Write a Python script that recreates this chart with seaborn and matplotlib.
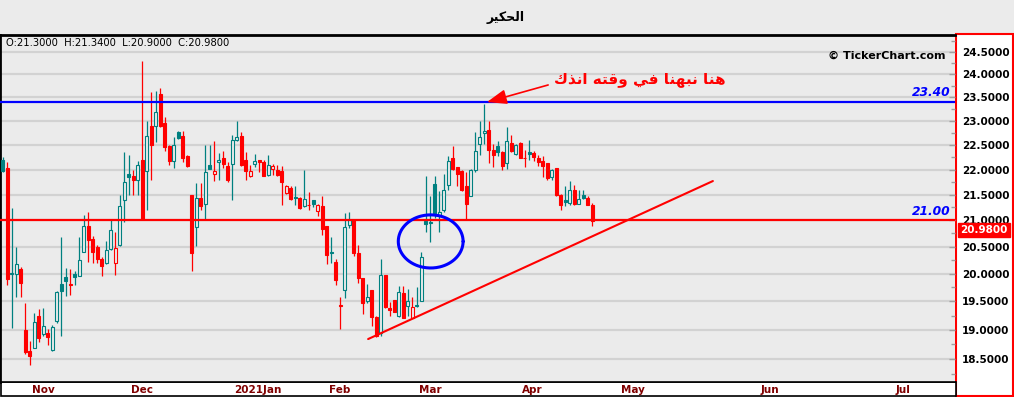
import numpy as np
import matplotlib
matplotlib.use("Agg")
import matplotlib.pyplot as plt
import matplotlib.ticker as mticker
from matplotlib.patches import Rectangle
from matplotlib.transforms import ScaledTranslation
import seaborn as sns

# ---------------- data ----------------
title_text = "الحكير"
note_text = "هنا نبهنا في وقته انذك"
ohlc_text = "O:21.3000  H:21.3400  L:20.9000  C:20.9800"
credit_text = "© TickerChart.com"

opens = [
    22.19, 22.04, 20.00, 20.00, 20.08, 19.00, 18.63, 18.69, 19.24, 18.93,
    18.94, 18.66, 19.16, 19.82, 19.94, 19.81, 20.00, 19.96, 20.41, 20.90,
    20.65, 20.50, 20.27, 20.19, 20.46, 20.19, 20.53, 21.39, 21.92, 21.88,
    21.79, 22.19, 21.98, 22.90, 22.90, 23.58, 22.95, 22.47, 22.18, 22.76,
    22.69, 22.27, 21.50, 20.88, 21.43, 21.32, 22.09, 21.91, 22.15, 22.23,
    22.07, 22.11, 22.60, 22.69, 22.19, 21.88, 22.11, 22.19, 22.16, 21.90,
    22.02, 22.00, 21.98, 21.54, 21.63, 21.45, 21.44, 21.27, 21.30, 21.39,
    21.19, 21.28, 20.89, 20.41, 20.21, 19.43, 19.70, 20.91, 21.00, 20.39,
    19.92, 19.50, 19.71, 19.23, 18.95, 19.98, 19.38, 19.52, 19.24, 19.65,
    19.41, 19.21, 19.44, 19.51, 20.99, 20.96, 21.71, 21.11, 21.20, 21.70,
    22.23, 22.05, 21.97, 21.67, 21.48, 22.00, 22.53, 22.74, 22.82, 22.39,
    22.48, 22.36, 22.13, 22.55, 22.31, 22.55, 22.24, 22.35, 22.33, 22.24,
    22.18, 22.13, 21.86, 22.03, 21.50, 21.39, 21.33, 21.60, 21.32, 21.50,
    21.43, 21.30,
]
highs = [
    22.25, 22.16, 21.24, 20.49, 20.12, 19.48, 18.80, 19.30, 19.37, 19.39,
    19.01, 19.08, 19.68, 20.68, 20.10, 20.09, 20.05, 20.68, 21.11, 21.17,
    20.70, 20.53, 20.31, 20.61, 21.03, 20.78, 21.50, 22.35, 22.29, 22.00,
    22.18, 24.30, 22.99, 23.62, 23.65, 23.71, 23.09, 22.51, 22.67, 22.78,
    22.79, 22.29, 21.50, 21.74, 21.74, 22.51, 22.51, 22.58, 22.33, 22.38,
    22.16, 22.70, 22.99, 22.76, 22.36, 22.09, 22.31, 22.20, 22.19, 22.29,
    22.11, 22.09, 22.07, 21.69, 21.67, 21.67, 21.46, 22.00, 21.56, 21.40,
    21.31, 21.48, 20.89, 20.69, 20.28, 19.58, 21.15, 21.17, 21.00, 20.54,
    19.92, 19.82, 19.71, 19.24, 20.27, 19.98, 19.49, 19.53, 19.77, 19.77,
    19.72, 19.58, 19.76, 20.40, 21.88, 21.48, 21.88, 21.58, 21.92, 22.28,
    22.47, 22.06, 21.99, 21.96, 22.01, 22.76, 23.00, 23.37, 22.99, 22.53,
    22.59, 22.37, 22.88, 22.71, 22.53, 22.57, 22.39, 22.60, 22.38, 22.30,
    22.27, 22.14, 22.02, 22.04, 21.51, 21.67, 21.78, 21.69, 21.60, 21.60,
    21.47, 21.34,
]
lows = [
    21.95, 19.80, 19.03, 19.58, 19.58, 18.59, 18.40, 18.68, 18.79, 18.90,
    18.74, 18.64, 19.12, 18.90, 19.59, 19.62, 19.79, 19.95, 20.40, 20.22,
    20.19, 20.19, 19.96, 20.18, 20.44, 19.98, 20.51, 20.96, 21.50, 21.50,
    21.50, 21.00, 21.20, 21.79, 22.57, 22.87, 22.38, 22.09, 22.04, 22.62,
    22.15, 22.06, 20.05, 20.51, 21.20, 21.02, 22.01, 21.78, 21.80, 22.04,
    21.76, 21.40, 22.58, 22.08, 21.80, 21.86, 22.05, 21.96, 21.87, 21.88,
    21.89, 21.87, 21.30, 21.52, 21.39, 21.29, 21.22, 21.26, 21.20, 21.25,
    21.08, 20.73, 20.18, 20.19, 19.79, 19.02, 19.56, 20.86, 20.33, 19.84,
    19.28, 19.47, 19.06, 18.88, 18.89, 19.38, 19.24, 19.31, 19.23, 19.20,
    19.24, 19.20, 19.40, 19.50, 20.78, 20.58, 21.05, 20.78, 21.17, 21.60,
    22.00, 21.68, 21.58, 21.02, 21.47, 21.96, 22.29, 22.53, 22.14, 22.05,
    22.27, 22.00, 22.01, 22.36, 22.30, 22.23, 22.05, 22.19, 22.18, 22.07,
    21.86, 21.80, 21.79, 21.48, 21.20, 21.27, 21.30, 21.29, 21.31, 21.41,
    21.29, 20.90,
]
closes = [
    21.98, 19.91, 20.01, 20.17, 19.83, 18.62, 18.55, 19.13, 18.86, 19.06,
    18.87, 19.05, 19.67, 19.69, 19.87, 19.80, 19.94, 20.26, 20.90, 20.62,
    20.40, 20.27, 20.15, 20.44, 20.82, 20.47, 21.28, 21.76, 21.85, 21.79,
    22.09, 21.02, 22.69, 22.49, 23.19, 22.89, 22.45, 22.17, 22.51, 22.64,
    22.23, 22.08, 20.38, 21.43, 21.28, 21.95, 22.02, 21.97, 22.19, 22.11,
    21.79, 22.60, 22.67, 22.09, 21.98, 21.97, 22.17, 22.15, 21.88, 22.09,
    22.07, 21.90, 21.75, 21.67, 21.41, 21.43, 21.24, 21.41, 21.29, 21.32,
    21.30, 20.84, 20.35, 20.39, 19.88, 19.42, 20.88, 21.00, 20.38, 19.92,
    19.48, 19.58, 19.23, 18.90, 19.98, 19.40, 19.34, 19.32, 19.67, 19.21,
    19.50, 19.40, 19.42, 20.30, 20.94, 20.95, 21.10, 21.17, 21.60, 22.18,
    22.01, 21.91, 21.60, 21.31, 22.00, 22.38, 22.66, 22.80, 22.39, 22.30,
    22.35, 22.07, 22.59, 22.38, 22.51, 22.24, 22.23, 22.31, 22.26, 22.16,
    22.08, 21.84, 22.00, 21.50, 21.29, 21.36, 21.60, 21.31, 21.41, 21.43,
    21.30, 20.98,
]
prev_close_before_first = 21.90

month_pos = [6, 28, 51, 72, 92, 115, 137, 168, 198]
month_labels = ["Nov", "Dec", "2021Jan", "Feb", "Mar", "Apr", "May", "Jun", "Jul"]

price_ticks = [18.5, 19.0, 19.5, 20.0, 20.5, 21.0, 21.5, 22.0, 22.5, 23.0, 23.5, 24.0, 24.5]
price_labels = ["18.5000", "19.0000", "19.5000", "20.0000", "20.5000", "21.0000", "21.5000",
                "22.0000", "22.5000", "23.0000", "23.5000", "24.0000", "24.5000"]
price_minor = [18.25, 18.75, 19.25, 19.75, 20.25, 20.75, 21.25, 21.75, 22.25, 22.75,
               23.25, 23.75, 24.25, 24.75]

level_values = [23.40, 21.00]
level_labels = ["23.40", "21.00"]
last_price = 20.98
last_label = "20.9800"

trend_x = [81.2, 157.8]
trend_y = [18.84, 21.77]
arrow_tip = (107.6, 23.40)
arrow_tail = (121.2, 23.77)
note_pos = (141.6, 23.88)
ellipse_center = (95.1, 20.60)
ellipse_half_w = 7.2      # candles
ellipse_half_h = 0.0243   # log-price units

# ---------------- simple Arabic shaping (presentation forms, RTL) ----------------
AR_FORMS = {
    "ا": ("\uFE8D", "\uFE8E", None, None),
    "ب": ("\uFE8F", "\uFE90", "\uFE91", "\uFE92"),
    "ت": ("\uFE95", "\uFE96", "\uFE97", "\uFE98"),
    "ح": ("\uFEA1", "\uFEA2", "\uFEA3", "\uFEA4"),
    "ذ": ("\uFEAB", "\uFEAC", None, None),
    "ر": ("\uFEAD", "\uFEAE", None, None),
    "ف": ("\uFED1", "\uFED2", "\uFED3", "\uFED4"),
    "ق": ("\uFED5", "\uFED6", "\uFED7", "\uFED8"),
    "ك": ("\uFED9", "\uFEDA", "\uFEDB", "\uFEDC"),
    "ل": ("\uFEDD", "\uFEDE", "\uFEDF", "\uFEE0"),
    "ن": ("\uFEE5", "\uFEE6", "\uFEE7", "\uFEE8"),
    "ه": ("\uFEE9", "\uFEEA", "\uFEEB", "\uFEEC"),
    "و": ("\uFEED", "\uFEEE", None, None),
    "ي": ("\uFEF1", "\uFEF2", "\uFEF3", "\uFEF4"),
}


def shape_ar(text):
    out = []
    ch = list(text)
    for k, c in enumerate(ch):
        if c not in AR_FORMS:
            out.append(c)
            continue
        prev = ch[k - 1] if k > 0 else None
        nxt = ch[k + 1] if k + 1 < len(ch) else None
        iso, fin, ini, med = AR_FORMS[c]
        jp = prev in AR_FORMS and AR_FORMS[prev][2] is not None
        jn = nxt in AR_FORMS and ini is not None
        if jp and jn:
            out.append(med)
        elif jp:
            out.append(fin)
        elif jn:
            out.append(ini)
        else:
            out.append(iso)
    return "".join(reversed(out))


# ---------------- style ----------------
sns.set_style("white")
plt.rcParams["font.family"] = ["DejaVu Sans"]

BG = "#ebebeb"
TEAL = "#008080"
RED = "#ff0000"

W, H = 1014, 397
fig = plt.figure(figsize=(W / 100, H / 100), dpi=100)
fig.patch.set_facecolor(BG)


def fx(px):
    return px / W


def fy(py):
    return 1 - py / H


# background panels (price scale box and date strip)
fig.add_artist(Rectangle((fx(956), fy(395.5)), fx(1012.5 - 956), (395.5 - 34) / H,
                         transform=fig.transFigure, facecolor="white",
                         edgecolor=RED, lw=1.5, zorder=-1))
fig.add_artist(Rectangle((fx(0.5), fy(396)), fx(955.5), (396 - 382) / H,
                         transform=fig.transFigure, facecolor="white",
                         edgecolor="black", lw=1.2, zorder=-1))

ax = fig.add_axes([fx(0), fy(382), fx(955), (382 - 35) / H])
ax.set_facecolor(BG)
ax.set_yscale("log")

# ---------------- candles ----------------
o = np.array(opens)
h = np.array(highs)
l = np.array(lows)
c = np.array(closes)
idx = np.arange(len(c))
prev = np.concatenate([[prev_close_before_first], c[:-1]])
cols = [TEAL if cc >= pp else RED for cc, pp in zip(c, prev)]
faces = [BG if cc > oo else col for cc, oo, col in zip(c, o, cols)]

ax.vlines(idx, l, h, colors=cols, lw=0.9, zorder=2)
ax.bar(idx, np.abs(c - o), bottom=np.minimum(o, c), width=0.62,
       color=faces, edgecolor=cols, linewidth=0.8, zorder=3)

# ---------------- levels & drawings ----------------
ax.axhline(level_values[0], color="#0000ff", lw=1.6, zorder=4)
ax.axhline(level_values[1], color=RED, lw=1.6, zorder=4)
for val, lab in zip(level_values, level_labels):
    ax.annotate(lab, xy=(1, val), xycoords=("axes fraction", "data"),
                xytext=(-3, 2), textcoords="offset points", ha="right", va="bottom",
                color="#0000ff", fontsize=8.8, fontweight="bold", fontstyle="italic",
                zorder=6)

sns.lineplot(x=trend_x, y=trend_y, ax=ax, color=RED, lw=1.5, zorder=5)

t = np.linspace(0, 2 * np.pi, 240)
ex = ellipse_center[0] + ellipse_half_w * np.cos(t)
ey = ellipse_center[1] * np.exp(ellipse_half_h * np.sin(t))
ax.plot(ex, ey, color="#0000ff", lw=2.2, zorder=5)

ax.annotate("", xy=arrow_tip, xytext=arrow_tail,
            arrowprops=dict(arrowstyle="-|>,head_length=1.2,head_width=0.45",
                            color=RED, lw=1.2, shrinkA=0, shrinkB=0, mutation_scale=10),
            zorder=6)
ax.text(note_pos[0], note_pos[1], shape_ar(note_text), ha="center", va="center",
        color=RED, fontsize=11, fontweight="bold", family="DejaVu Sans", zorder=6)

# last price tag
ax.annotate(last_label, xy=(1, last_price), xycoords=("axes fraction", "data"),
            xytext=(4, -2.5), textcoords="offset points", ha="left", va="top",
            color="white", fontsize=7.5, fontweight="bold",
            bbox=dict(boxstyle="square,pad=0.2", fc=RED, ec=RED),
            annotation_clip=False, zorder=10)

# ---------------- axes ----------------
ax.set_xlim(-0.6, 211.6)
ax.set_ylim(18.114, 24.882)
ax.set_xlabel("")
ax.set_ylabel("")

ax.yaxis.tick_right()
ax.yaxis.set_major_locator(mticker.FixedLocator(price_ticks))
ax.yaxis.set_major_formatter(mticker.FixedFormatter(price_labels))
ax.yaxis.set_minor_locator(mticker.FixedLocator(price_minor))
ax.yaxis.set_minor_formatter(mticker.NullFormatter())
ax.tick_params(axis="y", which="major", direction="in", length=4.5, width=1,
               color="#a0a0a0", pad=5, labelsize=7.5, labelcolor="black")
ax.tick_params(axis="y", which="minor", direction="in", length=3, width=1,
               color="#a0a0a0")
for lab in ax.get_yticklabels():
    lab.set_fontweight("bold")

ax.set_xticks(month_pos)
ax.set_xticklabels(month_labels, ha="left", color="#800000", fontweight="bold", fontsize=7.5)
ax.tick_params(axis="x", which="both", direction="in", length=3.5, width=1,
               color="#a0a0a0", pad=2.5)
off = ScaledTranslation(2 / 100, 0, fig.dpi_scale_trans)
for lab in ax.get_xticklabels():
    lab.set_transform(lab.get_transform() + off)

ax.grid(False)
ax.yaxis.grid(True, which="major", color="#d2d2d2", lw=1.6)
ax.set_axisbelow(True)

for side in ["top", "left"]:
    ax.spines[side].set_color("black")
    ax.spines[side].set_linewidth(2)
ax.spines["bottom"].set_color("black")
ax.spines["bottom"].set_linewidth(1.2)
ax.spines["right"].set_visible(False)

# ---------------- header texts ----------------
fig.text(fx(506), fy(18), shape_ar(title_text), ha="center", va="center",
         fontsize=9, fontweight="bold", color="black", family="DejaVu Sans")
fig.text(fx(6), fy(43), ohlc_text, ha="left", va="center", fontsize=7.2, color="black")
fig.text(fx(945), fy(56), credit_text, ha="right", va="center", fontsize=8,
         fontweight="bold", color="black")

fig.savefig("out.png", dpi=100, facecolor=fig.get_facecolor())
